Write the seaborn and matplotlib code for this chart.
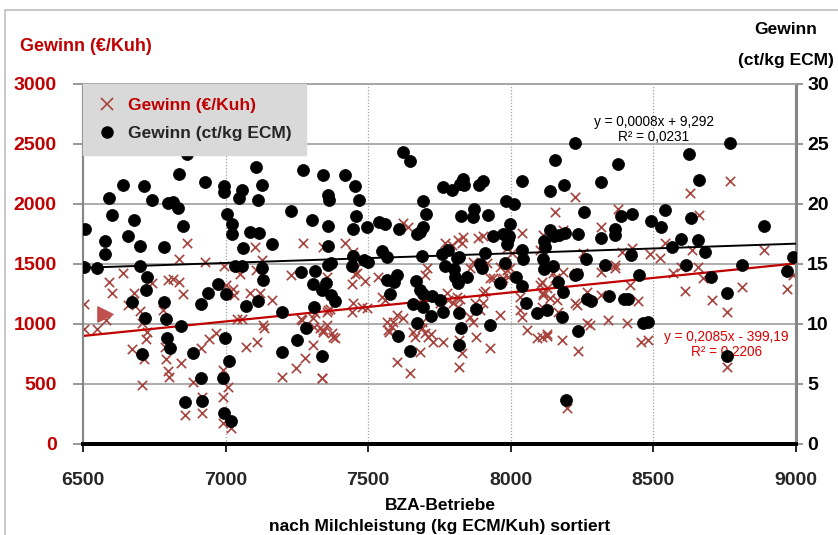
import numpy as np
import pandas as pd
import matplotlib
matplotlib.use("Agg")
import matplotlib.pyplot as plt
import seaborn as sns
from matplotlib.lines import Line2D
from matplotlib.patches import Rectangle

# ---------------- data ----------------
kuh_x = [6864, 6837, 6928, 6994, 6639, 6592, 6603, 6797, 6815, 6836, 6850, 6742, 6678, 6659, 6505,
         6580, 6503, 6550, 6700, 6706, 6725, 6721, 6672, 6715, 6706, 6782, 6788, 6791, 6799, 6803,
         6843, 6858, 6885, 6916, 6916, 6913, 6941, 6967, 7003, 7025, 7029, 6992, 7009, 6990, 6992,
         7019, 7056, 7039, 7085, 7121, 7109, 7070, 7132, 7135, 7163, 7229, 7197, 7247, 7278, 7263,
         7103, 7128, 7050, 7106,
         7454, 7444, 7489, 7535, 7442, 7477, 7495, 7357, 7366, 7307, 7310, 7343, 7354, 7378, 7307,
         7339, 7547, 7559, 7600, 7588, 7570, 7602, 7646, 7664, 7658, 7687, 7699, 7708, 7719, 7726,
         7687, 7682, 7705, 7699, 7763, 7775, 7781, 7798, 7752, 7810, 7822, 7819, 7828, 7819, 7878,
         7868, 7857, 7927, 7901, 7909, 7901, 7874, 7892, 7962, 7939, 7968, 7991, 7986, 8032, 8038,
         8056, 8091, 8126, 8114, 8126, 7272, 7342, 7419, 7448, 7623, 7640, 7769, 7793, 7816, 7833,
         7828, 7886, 7901, 8038, 7986, 8003, 7477, 7962, 7868, 7857, 7915, 8102, 7354, 7460, 7267,
         7313, 7331, 7342, 7372, 7383, 7337, 7360, 7448, 7565, 7582, 7574, 7623, 7816, 7927, 7974,
         7997, 8032, 8108,
         8768, 8628, 8225, 8155, 8375, 8661, 8315, 8161, 8184, 8114, 8254, 8389, 8424, 8488, 8541,
         8523, 8634, 8889, 8570, 8657, 8365, 8365, 8318, 8184, 8149, 8990, 8231, 8114, 8155, 8102,
         8114, 8137, 8161, 8108, 8126, 8166, 8225, 8231, 8266, 8318, 8418, 8447, 8266, 8278, 8342,
         8409, 8181, 8126, 8108, 8237, 8458, 8482, 8611, 8704, 8757, 8810, 8967, 8196, 8757, 8598,
         8675]
kuh_y = [1678, 1542, 1514, 1483, 1428, 1347, 1256, 1367, 1372, 1350, 1250, 1344, 1256, 1158, 1167,
         1033, 958, 958, 1111, 1006, 936, 872, 792, 708, 492, 1117, 806, 706, 608, 556,
         672, 242, 519, 394, 256, 803, 875, 928, 1325, 1289, 1242, 617, 478, 394, 172,
         136, 1042, 1039, 1256, 1256, 853, 811, 992, 969, 1200, 1408, 556, 631, 714, 1039,
         1644, 1533, 1417, 1450,
         1417, 1333, 1361, 1394, 1103, 1144, 1131, 1103, 1122, 1047, 978, 950, 992, 889, 825,
         547, 1228, 1200, 1075, 1019, 950, 681, 589, 894, 936, 964, 922, 894, 917, 853,
         1019, 769, 1464, 1408, 853, 1256, 1200, 1172, 1172, 1228, 1206, 867, 756, 644, 889,
         1019, 1061, 797, 1261, 1278, 1172, 1178, 1117, 1075, 1381, 1367, 1394, 1450, 1117, 1056,
         950, 881, 917, 1256, 1297, 1672, 1644, 1672, 1603, 1844, 1811, 1672, 1658, 1700, 1728,
         1672, 1714, 1733, 1756, 1631, 1594, 1519, 1478, 1519, 1464, 1506, 1617, 1394, 1422, 1033,
         1089, 964, 936, 922, 881, 553, 1117, 1172, 1019, 978, 936, 1047, 1144, 1381, 1381,
         1464, 1228, 1353,
         2194, 2089, 2061, 1936, 1956, 1908, 1811, 1756, 1783, 1742, 1589, 1603, 1631, 1583, 1672,
         1547, 1617, 1617, 1422, 1478, 1492, 1464, 1436, 1436, 1422, 1408, 1428, 1478, 1381, 1325,
         1242, 1214, 1200, 1144, 1117, 1103, 1172, 1158, 1269, 1242, 1325, 1194, 1006, 992, 1033,
         1011, 867, 900, 889, 778, 853, 867, 1278, 1200, 1103, 1311, 1289, 303, 644, 1472,
         1381]

ecm_x = [6864, 6837, 7105, 6639, 6714, 6927, 6994, 6994, 7059, 7127, 6592, 6741, 6799, 6815, 6834,
         7048, 7112, 6603, 6678, 7004, 7021, 6851, 6506, 7022, 7086, 7117, 6577, 6659, 6700, 6785,
         7060, 6577, 6505, 6550, 6701, 7033, 7059, 7127, 6725, 7131, 6721, 6974, 6939, 7001, 6672,
         6784, 6915, 7071, 7112, 6717, 6791, 6843, 6999, 6796, 6805, 6706, 6887, 7011, 6914, 6990,
         6858, 6918, 6994, 7019,
         7621, 7645, 7271, 7342, 7419, 7453, 7358, 7362, 7467, 7692, 7761, 7229, 7303, 7360, 7456,
         7448, 7495, 7539, 7560, 7607, 7701, 7693, 7682, 7671, 7164, 7359, 7446, 7549, 7567, 7687,
         7758, 7265, 7312, 7359, 7371, 7442, 7485, 7500, 7307, 7351, 7338, 7369, 7382, 7565, 7591,
         7602, 7575, 7667, 7682, 7693, 7725, 7752, 7658, 7693, 7721, 7761, 7197, 7310, 7281, 7249,
         7197, 7338, 7670, 7603, 7646,
         8225, 8155, 8377, 7793, 7822, 7833, 7836, 7889, 7901, 8038, 8137, 8187, 8315, 7983, 8011,
         7825, 7868, 7872, 7919, 8257, 8386, 7997, 7939, 7974, 7989, 7993, 7986, 8137, 8151, 8170,
         8189, 8235, 8315, 8365, 8367, 8117, 8121, 8040, 8043, 7909, 7779, 7810, 7818, 7768, 7802,
         7892, 7900, 7981, 8112, 8117, 8147, 8262, 8329, 7804, 7816, 7845, 7962, 8018, 8040, 8164,
         8225, 8231, 8184, 8053, 8266, 8280, 8345, 8398, 7819, 7878, 8093, 8128, 8178, 7824, 7928,
         8234, 7819, 8193,
         8768, 8626, 8661, 8426, 8490, 8528, 8542, 8633, 8888, 8598, 8655, 8566, 8680, 8420, 8990,
         8613, 8810, 8967, 8448, 8701, 8757, 8410, 8462, 8482, 8757]
ecm_y = [24.2, 22.5, 23.1, 21.6, 21.5, 21.8, 21.5, 21.0, 21.2, 21.6, 20.5, 20.3, 20.1, 20.2, 19.7,
         20.5, 20.3, 19.1, 18.7, 19.2, 18.3, 18.2, 17.9, 17.5, 17.7, 17.6, 16.9, 17.3, 16.5, 16.4,
         16.3, 15.8, 14.75, 14.7, 14.8, 14.8, 14.8, 14.7, 13.9, 13.7, 12.8, 13.3, 12.6, 12.5, 11.8,
         11.8, 11.7, 11.5, 11.9, 10.5, 10.4, 9.8, 8.8, 8.8, 8.0, 7.5, 7.6, 6.9, 5.5, 5.5,
         3.5, 3.6, 2.6, 1.9,
         24.3, 23.6, 22.8, 22.4, 22.4, 21.5, 20.75, 20.3, 20.3, 20.25, 21.4, 19.4, 18.7, 18.2, 19.0,
         17.9, 18.1, 18.5, 18.3, 17.9, 19.2, 18.1, 17.7, 17.5, 16.7, 16.5, 15.7, 16.1, 15.6, 15.7,
         15.8, 14.3, 14.4, 14.9, 15.1, 14.8, 15.3, 15.2, 13.3, 13.4, 12.8, 12.4, 11.9, 13.7, 13.5,
         14.1, 12.5, 13.6, 12.8, 12.5, 12.3, 12.0, 11.7, 11.4, 10.7, 11.0, 11.0, 11.4, 9.7, 8.7,
         7.7, 7.3, 10.1, 9.0, 7.75,
         25.1, 23.7, 23.3, 21.2, 21.7, 22.1, 21.6, 21.6, 21.9, 21.9, 21.1, 21.6, 21.8, 20.25, 20.0,
         19.0, 18.9, 19.6, 19.1, 19.3, 19.0, 18.3, 17.3, 17.5, 17.1, 17.3, 16.7, 17.8, 17.3, 17.4,
         17.6, 17.5, 17.2, 17.9, 17.4, 16.9, 16.4, 16.2, 15.4, 15.9, 16.2, 15.5, 15.6, 14.8, 14.6,
         15.0, 14.7, 15.1, 15.4, 14.6, 14.8, 15.4, 14.9, 13.9, 13.4, 13.9, 13.4, 13.9, 13.2, 13.5,
         14.1, 14.2, 12.7, 11.75, 12.1, 11.9, 12.3, 12.1, 10.9, 11.25, 10.9, 11.2, 10.6, 9.7, 9.9,
         9.4, 8.25, 3.7,
         25.1, 24.2, 22.0, 19.2, 18.6, 18.1, 19.5, 18.8, 18.2, 17.1, 17.0, 16.4, 16.0, 15.75, 15.6,
         14.9, 14.9, 14.4, 14.1, 13.9, 12.6, 12.1, 10.1, 10.2, 7.3]

mark_x = [6577]
mark_y = [1083]

x_ticks = [6500, 7000, 7500, 8000, 8500, 9000]
left_ticks = [0, 500, 1000, 1500, 2000, 2500, 3000]
right_ticks = [0, 5, 10, 15, 20, 25, 30]

eq_ecm = "y = 0,0008x + 9,292\nR² = 0,0231"
eq_kuh = "y = 0,2085x - 399,19\nR² = 0,2206"
label_kuh = "Gewinn (€/Kuh)"
label_ecm = "Gewinn (ct/kg ECM)"

df_kuh = pd.DataFrame({"x": kuh_x, "y": kuh_y})
df_ecm = pd.DataFrame({"x": ecm_x, "y": ecm_y})

# ---------------- style ----------------
sns.set_theme(style="white")
FONT = ['Liberation Sans Narrow', 'Liberation Sans', 'DejaVu Sans']
plt.rcParams['font.family'] = FONT

RED = "#C00000"
XRED = "#A8423C"
GRID = "#A6A6A6"

fig = plt.figure(figsize=(8.38, 5.35), dpi=100)
fig.patch.set_facecolor("white")
fig.patches.append(Rectangle((5 / 838, -0.05), 1.0, 1 - 10 / 535 + 0.05,
                             transform=fig.transFigure, fill=False,
                             edgecolor="#BFBFBF", lw=1.2))

ax = fig.add_axes([83 / 838, 1 - 444 / 535, (796 - 83) / 838, (444 - 84) / 535])
ax2 = ax.twinx()

ax.set_xlim(6500, 9000)
ax.set_ylim(0, 3000)
ax2.set_ylim(0, 30)

# grid
for v in left_ticks[1:]:
    ax.axhline(v, color=GRID, lw=1.3, zorder=0)
for v in x_ticks[1:-1]:
    ax.axvline(v, color="#A0A0A0", lw=0.9, ls=(0, (1, 1.5)), zorder=0)

# crosses (left axis)
sns.scatterplot(data=df_kuh, x="x", y="y", ax=ax, marker="x", s=45,
                color=XRED, linewidth=1.2, zorder=3, legend=False)
ax.scatter(mark_x, mark_y, marker=">", s=120, color="#C0504D", zorder=3)
sns.regplot(data=df_kuh, x="x", y="y", ax=ax, scatter=False, ci=None,
            truncate=False, line_kws=dict(color=RED, lw=1.6, zorder=4))

# dots (right axis)
sns.scatterplot(data=df_ecm, x="x", y="y", ax=ax2, marker="o", s=75,
                color="black", edgecolor="black", linewidth=0.5, zorder=3, legend=False)
sns.regplot(data=df_ecm, x="x", y="y", ax=ax2, scatter=False, ci=None,
            truncate=False, line_kws=dict(color="black", lw=1.4, zorder=4))

ax.set_xlim(6500, 9000)
ax.set_ylim(0, 3000)
ax2.set_ylim(0, 30)

# ticks
ax.set_xticks(x_ticks)
ax.set_yticks(left_ticks)
ax2.set_yticks(right_ticks)
ax.set_xticklabels([str(v) for v in x_ticks], fontsize=14, fontweight="bold")
ax.set_yticklabels([str(v) for v in left_ticks], fontsize=14, fontweight="bold", color=RED)
ax2.set_yticklabels([str(v) for v in right_ticks], fontsize=14, fontweight="bold", color="black")
ax.tick_params(axis="x", direction="out", length=6, width=1.2, color="black", pad=14, bottom=True)
ax.tick_params(axis="y", direction="out", length=7, width=1.2, color="#868686", pad=12, left=True)
ax2.tick_params(axis="y", direction="out", length=5, width=1.2, color="#868686", pad=3, right=True)
ax.set_xlabel("")
ax.set_ylabel("")
ax2.set_xlabel("")
ax2.set_ylabel("")

for a in (ax, ax2):
    a.spines["left"].set_color("#868686")
    a.spines["left"].set_linewidth(1.5)
    a.spines["top"].set_color("#A6A6A6")
    a.spines["top"].set_linewidth(1.3)
    a.spines["right"].set_color("#868686")
    a.spines["right"].set_linewidth(2.2)
    a.spines["bottom"].set_color("black")
    a.spines["bottom"].set_linewidth(2.8)

# equations
ax2.text(8502, 26.2, eq_ecm, ha="center", va="center", fontsize=9.8,
         color="black", family=['Liberation Sans', 'DejaVu Sans'], linespacing=1.15, zorder=6)
ax.text(8755, 830, eq_kuh, ha="center", va="center", fontsize=9.8,
        color="#E00000", family=['Liberation Sans', 'DejaVu Sans'], linespacing=1.15, zorder=2)

# legend
handles = [Line2D([], [], marker="x", color=XRED, ls="none", markersize=8, mew=1.2),
           Line2D([], [], marker="o", color="black", ls="none", markersize=8)]
leg = ax2.legend(handles, [label_kuh, label_ecm], loc="upper left",
                 bbox_to_anchor=(0.0, 1.0), borderaxespad=0.0, frameon=True,
                 fancybox=False, facecolor="#D9D9D9", edgecolor="#D9D9D9",
                 framealpha=1.0, handlelength=1.2, handletextpad=0.6,
                 borderpad=0.8, labelspacing=0.75,
                 prop=dict(size=12.5, weight="bold"))
leg.set_zorder(10)
leg.get_texts()[0].set_color(RED)

# titles
fig.text(20 / 838, 1 - 47 / 535, label_kuh, ha="left", va="center", fontsize=13,
         fontweight="bold", color=RED)
fig.text(786 / 838, 1 - 30 / 535, "Gewinn", ha="center", va="center", fontsize=12.5,
         fontweight="bold", color="black")
fig.text(786 / 838, 1 - 60 / 535, "(ct/kg ECM)", ha="center", va="center", fontsize=12.5,
         fontweight="bold", color="black")
fig.text(440 / 838, 1 - 506 / 535, "BZA-Betriebe", ha="center", va="center", fontsize=12.5,
         fontweight="bold", color="black")
fig.text(440 / 838, 1 - 526 / 535, "nach Milchleistung (kg ECM/Kuh) sortiert", ha="center",
         va="center", fontsize=12.5, fontweight="bold", color="black")

fig.savefig("out.png", dpi=100)
